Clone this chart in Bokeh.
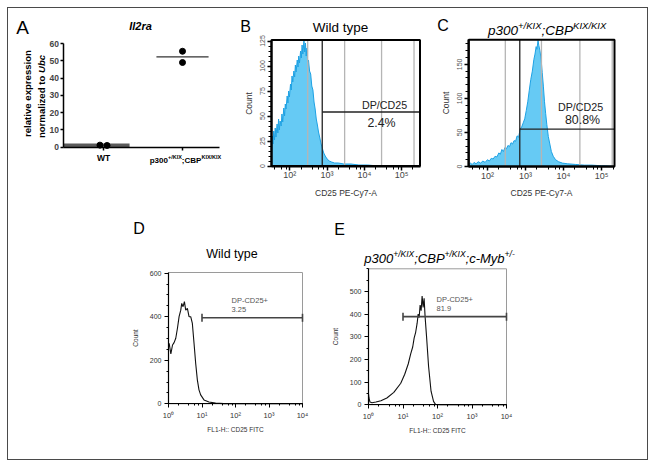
import numpy as np
from math import pi
from bokeh.plotting import figure
from bokeh.layouts import row, column
from bokeh.models import (Range1d, FixedTicker, LogTicker, CustomJSTickFormatter,
                          Label, Spacer)
from bokeh.embed import file_html
from bokeh.resources import INLINE

FONT = "Liberation Sans"

# ---------------- data ----------------
# Panel A : Il2ra relative expression normalized to Ubc
a_categories = ["WT", "p300+/KIX;CBPKIX/KIX"]
a_wt_points = [1.2, 1.0]
a_kix_points = [55.5, 49.0]
a_yticks = [0, 10, 20, 30, 40, 50, 60]

# Panel B : wild type, CD25 PE-Cy7-A histogram (log10 fluorescence, count)
b_log_x = [1.51, 1.53, 1.55, 1.57, 1.59, 1.61, 1.63, 1.66, 1.68, 1.70,
           1.72, 1.74, 1.77, 1.79, 1.81, 1.84, 1.86, 1.88, 1.90, 1.93,
           1.95, 1.97, 1.99, 2.02, 2.04, 2.06, 2.08, 2.11, 2.13, 2.15,
           2.17, 2.20, 2.22, 2.24, 2.26, 2.29, 2.31, 2.33, 2.35, 2.38,
           2.40, 2.42, 2.44, 2.46, 2.48, 2.50, 2.53, 2.56, 2.59, 2.62,
           2.65, 2.68, 2.71, 2.74, 2.77, 2.80, 2.84, 2.87, 2.91, 2.95,
           3.00, 3.06, 3.12, 3.20, 3.30, 3.45, 3.64, 3.85, 4.09, 4.36,
           4.60, 5.00, 5.49]
b_count = [12, 30, 22, 35, 26, 38, 29, 42, 33, 47,
           36, 45, 40, 52, 44, 58, 50, 62, 57, 70,
           63, 75, 69, 82, 76, 90, 84, 95, 89, 101,
           94, 106, 99, 110, 103, 115, 108, 121, 112, 125,
           114, 123, 110, 118, 104, 106, 95, 92, 80, 76,
           64, 57, 47, 41, 34, 29, 22, 18, 13, 10,
           7, 5, 4, 3, 3, 2, 2, 1, 1, 0,
           0, 0, 0]
b_xlim_log = (1.51, 5.49)
b_ymax = 126
b_grid_log = [2.48, 3.47, 4.46, 5.33]
b_gate_log = 2.87
b_gate_count = 54
b_gate_name = "DP/CD25"
b_gate_pct = "2.4%"
b_yticks = [0, 25, 50, 75, 100, 125]

# Panel C : p300+/KIX;CBPKIX/KIX, CD25 PE-Cy7-A histogram
c_log_x = [1.51, 1.55, 1.60, 1.65, 1.70, 1.76, 1.82, 1.88, 1.94, 2.00,
           2.05, 2.10, 2.15, 2.20, 2.25, 2.30, 2.34, 2.38, 2.42, 2.46,
           2.50, 2.54, 2.58, 2.62, 2.66, 2.70, 2.74, 2.78, 2.82, 2.86,
           2.90, 2.94, 2.98, 3.02, 3.06, 3.10, 3.14, 3.18, 3.22, 3.25,
           3.28, 3.30, 3.33, 3.35, 3.38, 3.41, 3.44, 3.47, 3.50, 3.53,
           3.56, 3.60, 3.64, 3.68, 3.73, 3.79, 3.87, 3.97, 4.10, 4.32,
           4.55, 4.75, 5.00, 5.10, 5.34]
c_count = [3, 5, 3, 6, 4, 7, 5, 8, 6, 10,
           8, 12, 11, 15, 14, 20, 18, 25, 22, 28,
           26, 31, 29, 35, 33, 38, 37, 45, 43, 55,
           58, 64, 70, 82, 95, 112, 128, 140, 157, 165,
           176, 172, 185, 178, 170, 158, 138, 118, 95, 78,
           62, 44, 33, 22, 15, 10, 7, 5, 4, 3,
           2, 2, 1, 1, 0]
c_xlim_log = (1.51, 5.34)
c_ymax = 186
c_grid_log = [2.47, 3.42, 4.43, 5.28]
c_gate_log = 2.85
c_gate_count = 55
c_gate_name = "DP/CD25"
c_gate_pct = "80.8%"
c_yticks = [0, 50, 100, 150]

# Panel D : wild type, FL1-H CD25 FITC histogram
d_log_x = [0.0, 0.02, 0.07, 0.12, 0.167, 0.217, 0.267, 0.316, 0.366, 0.395,
           0.435, 0.475, 0.514, 0.564, 0.613, 0.663, 0.712, 0.762, 0.811, 0.861,
           0.91, 0.96, 1.059, 1.207, 1.406, 1.653, 1.95, 4.0]
d_count = [263, 278, 229, 270, 281, 301, 347, 400, 430, 461,
           446, 469, 430, 438, 400, 400, 369, 278, 186, 110,
           64, 41, 18, 8, 3, 1, 0, 0]
d_xlim_log = (0, 4)
d_ymax = 603
d_gate_log = [1.0, 4.0]
d_gate_count = 395
d_gate_name = "DP-CD25+"
d_gate_value = "3.25"
d_yticks = [0, 200, 400, 600]

# Panel E : p300+/KIX;CBP+/KIX;c-Myb+/-, FL1-H CD25 FITC histogram
e_log_x = [0.0, 0.014, 0.043, 0.101, 0.216, 0.36, 0.532, 0.734, 0.935, 1.05,
           1.151, 1.223, 1.281, 1.324, 1.367, 1.41, 1.439, 1.468, 1.496, 1.525,
           1.554, 1.583, 1.612, 1.64, 1.683, 1.741, 1.813, 1.885, 1.942, 2.086,
           4.0]
e_count = [48, 30, 12, 9, 12, 18, 30, 55, 95, 135,
           180, 225, 255, 295, 320, 360, 400, 385, 440, 415,
           480, 430, 470, 390, 300, 170, 60, 15, 2, 0,
           0]
e_xlim_log = (0, 4)
e_ymax = 600
e_gate_log = [1.0, 4.0]
e_gate_count = 389
e_gate_name = "DP-CD25+"
e_gate_value = "81.9"
e_yticks = [0, 100, 200, 300, 400, 500]

# ---------------- layout geometry (page pixels) ----------------
# fig rect (fx, fy, w, h); box = plotting box in page pixels (left, right, bottom, top)
PA = dict(fx=8, fy=8, w=220, h=210)
PB = dict(fx=228, fy=8, w=202, h=210, box=(271, 419.5, 165.5, 39.5))
PC = dict(fx=430, fy=8, w=217, h=210, box=(468.3, 614, 166, 39.3))
PD = dict(fx=110, fy=218, w=220, h=241, box=(168, 302, 403.3, 272))
PE = dict(fx=330, fy=218, w=200, h=241, box=(368, 506, 404.3, 268.3))

W_REG = {' ': .278, '+': .584, '-': .333, '/': .278, ';': .278, ':': .278, '.': .278,
         'B': .667, 'C': .722, 'I': .278, 'K': .667, 'M': .833, 'P': .667, 'X': .667,
         'U': .722, 'b': .556, 'c': .5, 'p': .556, 'y': .5}
W_BOLD = {' ': .278, '+': .584, '-': .333, '/': .278, ';': .333,
          'B': .722, 'C': .722, 'I': .278, 'K': .722, 'P': .667, 'X': .667,
          'U': .722, 'b': .611, 'c': .556, 'p': .611, 'a': .556, 'd': .611, 'e': .556,
          'i': .278, 'l': .278, 'm': .889, 'n': .611, 'o': .611, 'r': .389, 't': .333,
          'z': .5}


def tw(s, size, bold=False):
    tab = W_BOLD if bold else W_REG
    return sum(tab.get(ch, .556) for ch in s) * size


def pmap(p_a, v_a, p_b, v_b, c):
    """value at page pixel c for the linear map p_a -> v_a, p_b -> v_b"""
    return v_a + (c - p_a) * (v_b - v_a) / (p_b - p_a)


def lab(p, P, px, py, text, size, color="black", style="normal",
        align="center", baseline="middle", angle=0.0):
    x = px - P['fx']
    y = (P['fy'] + P['h']) - py
    p.add_layout(Label(x=x, y=y, x_units="screen", y_units="screen", text=text,
                       text_font=FONT, text_font_size=f"{size}px", text_color=color,
                       text_font_style=style, text_align=align, text_baseline=baseline,
                       angle=angle))


def rich(p, P, cx, cy, parts, color="black", rotated=False):
    widths = [tw(t, s, 'bold' in st) for (t, s, r, st) in parts]
    total = sum(widths)
    main = parts[0][1]
    if not rotated:
        x = cx - total / 2
        base = cy + 0.36 * main
        for (t, s, r, st), w in zip(parts, widths):
            lab(p, P, x, base - r, t, s, color, st, "left", "alphabetic")
            x += w
    else:
        y = cy + total / 2
        base = cx + 0.36 * main
        for (t, s, r, st), w in zip(parts, widths):
            lab(p, P, base - r, y, t, s, color, st, "left", "alphabetic", pi / 2)
            y -= w


SUP_JS = """
const e = Math.round(Math.log10(tick));
const s = {"0": "\u2070", "1": "\u00b9", "2": "\u00b2", "3": "\u00b3", "4": "\u2074", "5": "\u2075"};
return "10" + s[String(e)];
"""


def make_fig(P, xr, yr, xlog=False):
    p = figure(width=P['w'], height=P['h'], x_range=xr, y_range=yr,
               x_axis_type="log" if xlog else "linear",
               output_backend="svg", toolbar_location=None, title_location=None,
               min_border=0)
    p.grid.visible = False
    p.outline_line_color = None
    p.background_fill_color = "white"
    p.border_fill_color = "white"
    for ax in (p.xaxis[0], p.yaxis[0]):
        ax.major_label_text_font = FONT
        ax.axis_label_text_font = FONT
        ax.axis_label_text_font_style = "normal"
        ax.major_tick_in = 0
        ax.minor_tick_in = 0
    return p


# ---------------- Panel A ----------------
a_pos = [1, 2]
ax_ = dict(p1=103, p2=182)          # page x of the two categories
ay_ = dict(p0=146.7, p60=43)        # page y of 0 and 60
a_xr = Range1d(pmap(ax_['p1'], a_pos[0], ax_['p2'], a_pos[1], PA['fx']),
               pmap(ax_['p1'], a_pos[0], ax_['p2'], a_pos[1], PA['fx'] + PA['w']))
a_yr = Range1d(pmap(ay_['p0'], 0, ay_['p60'], 60, PA['fy'] + PA['h']),
               pmap(ay_['p0'], 0, ay_['p60'], 60, PA['fy']))
pa = make_fig(PA, a_xr, a_yr)
a_x_lo = pmap(ax_['p1'], a_pos[0], ax_['p2'], a_pos[1], 62.5)
a_x_hi = pmap(ax_['p1'], a_pos[0], ax_['p2'], a_pos[1], 219)
a_half = 0.33
a_jit = [-0.045, 0.045]
pa.segment(x0=[a_x_lo], x1=[a_pos[0] + a_half],
           y0=[np.mean(a_wt_points)], y1=[np.mean(a_wt_points)],
           line_color="#5a5a5a", line_width=3.5)
pa.segment(x0=[a_pos[1] - a_half], x1=[a_pos[1] + a_half],
           y0=[np.mean(a_kix_points)], y1=[np.mean(a_kix_points)],
           line_color="#333333", line_width=1.3)
pa.scatter([a_pos[0] + j for j in a_jit], a_wt_points, size=6, color="black")
pa.scatter([a_pos[1]] * len(a_kix_points), a_kix_points, size=6, color="black")
pa.yaxis.ticker = FixedTicker(ticks=a_yticks, minor_ticks=[])
pa.yaxis.fixed_location = a_x_lo
pa.yaxis.bounds = (0, 60)
pa.yaxis.major_label_text_font_style = "bold"
pa.yaxis.major_label_text_font_size = "8.5px"
pa.yaxis.major_label_standoff = 1
pa.xaxis.ticker = FixedTicker(ticks=a_pos, minor_ticks=[])
pa.xaxis.fixed_location = 0
pa.xaxis.bounds = (a_x_lo, a_x_hi)
pa.xaxis.major_label_text_color = None
for axis in (pa.xaxis[0], pa.yaxis[0]):
    axis.axis_line_width = 1.5
    axis.major_tick_line_width = 1.5
    axis.major_tick_out = 3
    axis.minor_tick_out = 0
lab(pa, PA, 22, 27, "A", 19)
lab(pa, PA, 140, 25, "Il2ra", 11, style="bold italic")
lab(pa, PA, 26.5, 93, "relative expression", 9.6, style="bold", angle=pi / 2)
rich(pa, PA, 38, 96, [("normalized to ", 9.6, 0, "bold"), ("Ubc", 9.6, 0, "bold italic")],
     rotated=True)
lab(pa, PA, 103, 157, a_categories[0], 8.5, style="bold")
rich(pa, PA, 185, 157, [("p300", 8, 0, "bold"), ("+/KIX", 5.5, 3, "bold"),
                        (";CBP", 8, 0, "bold"), ("KIX/KIX", 5.5, 3, "bold")])


def ranges_for(P, xlim_log, ymax):
    l, r, b, t = P['box']
    x0 = pmap(l, xlim_log[0], r, xlim_log[1], P['fx'])
    x1 = pmap(l, xlim_log[0], r, xlim_log[1], P['fx'] + P['w'])
    y0 = pmap(b, 0, t, ymax, P['fy'] + P['h'])
    y1 = pmap(b, 0, t, ymax, P['fy'])
    return Range1d(10 ** x0, 10 ** x1), Range1d(y0, y1)


# ---------------- Panels B, C ----------------
def facs_top(P, log_x, count, xlim_log, ymax, grid_log, gate_log, gate_count, yticks):
    xr, yr = ranges_for(P, xlim_log, ymax)
    p = make_fig(P, xr, yr, xlog=True)
    xlo, xhi = 10 ** xlim_log[0], 10 ** xlim_log[1]
    xs = [10 ** v for v in log_x]
    p.varea(x=xs, y1=0, y2=count, fill_color="#66caf4")
    p.line(xs, count, line_color="#1ea2e4", line_width=1)
    gx = [10 ** g for g in grid_log]
    p.segment(x0=gx, x1=gx, y0=0, y1=ymax, line_color="#b5b5b5", line_width=1.3)
    p.segment(x0=[10 ** gate_log], x1=[10 ** gate_log], y0=[0], y1=[ymax],
              line_color="#222222", line_width=1.3)
    p.segment(x0=[10 ** gate_log], x1=[xhi], y0=[gate_count], y1=[gate_count],
              line_color="#222222", line_width=1.3)
    p.quad(left=[xlo], right=[xhi], bottom=[0], top=[ymax], fill_color=None,
           line_color="black", line_width=2)
    p.xaxis.fixed_location = 0
    p.xaxis.bounds = (xlo, xhi)
    p.xaxis.ticker = LogTicker()
    p.xaxis.formatter = CustomJSTickFormatter(code=SUP_JS)
    p.xaxis.major_label_text_font_size = "9px"
    p.xaxis.major_label_text_color = "#444444"
    p.xaxis.axis_label = "CD25 PE-Cy7-A"
    p.xaxis.axis_label_text_font_size = "8.5px"
    p.xaxis.axis_label_text_color = "#333333"
    p.xaxis.axis_label_standoff = 4
    p.xaxis.major_label_standoff = 0
    p.yaxis.fixed_location = xlo
    p.yaxis.bounds = (0, ymax)
    p.yaxis.ticker = FixedTicker(ticks=yticks,
                                 minor_ticks=list(range(0, int(ymax) + 1, yticks[1] // 5)))
    p.yaxis.major_label_orientation = "vertical"
    p.yaxis.major_label_text_font_size = "7px"
    p.yaxis.major_label_text_color = "#555555"
    p.yaxis.major_label_standoff = 3
    p.yaxis.axis_label = "Count"
    p.yaxis.axis_label_text_font_size = "8.5px"
    p.yaxis.axis_label_text_color = "#333333"
    p.yaxis.axis_label_standoff = 3
    for axis in (p.xaxis[0], p.yaxis[0]):
        axis.axis_line_width = 2
        axis.major_tick_line_width = 1.5
        axis.major_tick_out = 4
        axis.minor_tick_out = 3
    return p


pb = facs_top(PB, b_log_x, b_count, b_xlim_log, b_ymax, b_grid_log, b_gate_log,
              b_gate_count, b_yticks)
lab(pb, PB, 245, 26, "B", 16)
lab(pb, PB, 340, 26.5, "Wild type", 13.5)
lab(pb, PB, 384, 104.5, b_gate_name, 10.7, color="#222222")
lab(pb, PB, 381, 122, b_gate_pct, 12.4, color="#222222")

pc = facs_top(PC, c_log_x, c_count, c_xlim_log, c_ymax, c_grid_log, c_gate_log,
              c_gate_count, c_yticks)
lab(pc, PC, 442.5, 24.5, "C", 16)
rich(pc, PC, 546.7, 25, [("p300", 13.5, 0, "italic"), ("+/KIX", 9.5, 5, "italic"),
                         (";CBP", 13.5, 0, "italic"), ("KIX/KIX", 9.5, 5, "italic")])
lab(pc, PC, 580, 106, c_gate_name, 10.7, color="#222222")
lab(pc, PC, 582, 119, c_gate_pct, 12.4, color="#222222")


# ---------------- Panels D, E ----------------
def facs_bottom(P, log_x, count, xlim_log, ymax, gate_log, gate_count, yticks, minor_step):
    xr, yr = ranges_for(P, xlim_log, ymax)
    p = make_fig(P, xr, yr, xlog=True)
    xlo, xhi = 10 ** xlim_log[0], 10 ** xlim_log[1]
    p.quad(left=[xlo], right=[xhi], bottom=[0], top=[ymax], fill_color=None,
           line_color="#9a9a9a", line_width=1)
    xs = [10 ** v for v in log_x]
    p.line(xs, count, line_color="#111111", line_width=1.1)
    gxs = [10 ** g for g in gate_log]
    p.segment(x0=[gxs[0]], x1=[gxs[1]], y0=[gate_count], y1=[gate_count],
              line_color="#444444", line_width=1.6)
    p.scatter(gxs, [gate_count] * 2, marker="dash", angle=pi / 2, size=8,
              line_color="#444444", line_width=1.6)
    p.xaxis.fixed_location = 0
    p.xaxis.bounds = (xlo, xhi)
    p.xaxis.ticker = LogTicker()
    p.xaxis.formatter = CustomJSTickFormatter(code=SUP_JS)
    p.xaxis.major_label_text_font_size = "7.5px"
    p.xaxis.major_label_text_color = "#333333"
    p.xaxis.axis_label = "FL1-H:: CD25 FITC"
    p.xaxis.axis_label_text_font_size = "6.5px"
    p.xaxis.axis_label_text_color = "#333333"
    p.xaxis.axis_label_standoff = 3
    p.xaxis.major_label_standoff = 3
    p.yaxis.fixed_location = xlo
    p.yaxis.bounds = (0, ymax)
    p.yaxis.ticker = FixedTicker(ticks=yticks,
                                 minor_ticks=list(range(0, int(ymax) + 1, minor_step)))
    p.yaxis.major_label_text_font_size = "7px"
    p.yaxis.major_label_text_color = "#333333"
    p.yaxis.major_label_standoff = 3
    p.yaxis.axis_label = "Count"
    p.yaxis.axis_label_text_font_size = "6.5px"
    p.yaxis.axis_label_text_color = "#333333"
    p.yaxis.axis_label_standoff = 8
    for axis in (p.xaxis[0], p.yaxis[0]):
        axis.axis_line_width = 1.2
        axis.major_tick_line_width = 1
        axis.major_tick_out = 4
        axis.minor_tick_out = 2
    return p


pd_ = facs_bottom(PD, d_log_x, d_count, d_xlim_log, d_ymax, d_gate_log, d_gate_count,
                  d_yticks, 50)
lab(pd_, PD, 138.5, 228, "D", 16)
lab(pd_, PD, 231.5, 253, "Wild type", 12.5)
lab(pd_, PD, 231, 300, d_gate_name, 7.5, color="#555555", align="left")
lab(pd_, PD, 231, 308.5, d_gate_value, 7.5, color="#555555", align="left")

pe = facs_bottom(PE, e_log_x, e_count, e_xlim_log, e_ymax, e_gate_log, e_gate_count,
                 e_yticks, 50)
lab(pe, PE, 339, 229, "E", 16)
rich(pe, PE, 439, 253.5, [("p300", 13, 0, "italic"), ("+/KIX", 8.5, 5, "italic"),
                          (";CBP", 13, 0, "italic"), ("+/KIX", 8.5, 5, "italic"),
                          (";c-Myb", 13, 0, "italic"), ("+/-", 8.5, 5, "italic")])
lab(pe, PE, 436, 298.5, e_gate_name, 7.5, color="#555555", align="left")
lab(pe, PE, 436, 307.5, e_gate_value, 7.5, color="#555555", align="left")

top = row(pa, pb, pc)
bottom = row(Spacer(width=102, height=241), pd_, pe, Spacer(width=117, height=241))
inner = column(top, bottom, styles={"outline": "1.5px solid #4a4a4a"})
layout = column(Spacer(width=647, height=8),
                row(Spacer(width=8, height=451), inner))

open("out.html", "w").write(file_html(layout, INLINE))
